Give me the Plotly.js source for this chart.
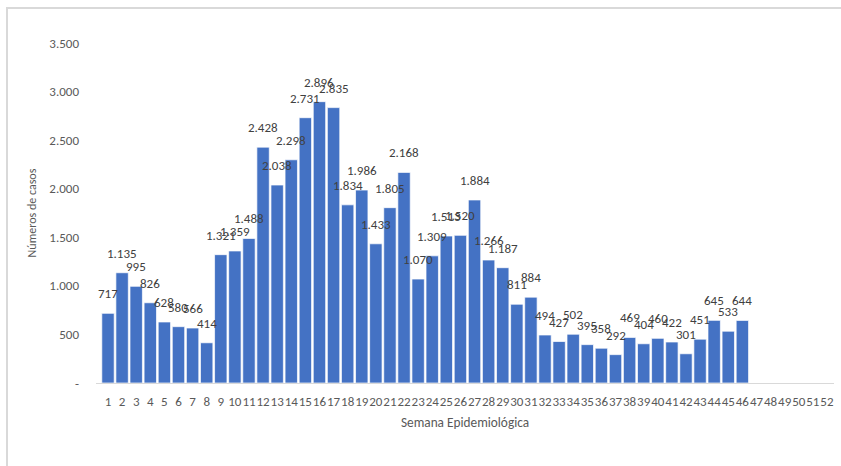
<!DOCTYPE html>
<html>
<head>
<meta charset="utf-8">
<script src="https://cdn.plot.ly/plotly-3.0.1.min.js"></script>
<style>
  html, body { margin: 0; padding: 0; background: #ffffff; width: 841px; height: 466px; overflow: hidden; }
  #frame { position: absolute; left: 6px; top: 7px; width: 900px; height: 500px;
           border-left: 2px solid #d9d9d9; border-top: 2px solid #d9d9d9; box-sizing: border-box; }
  #chart { position: absolute; left: 0; top: 0; width: 841px; height: 466px; }
</style>
</head>
<body>
<div id="frame"></div>
<div id="chart"></div>
<script>
// Epidemiological weeks (categories)
const weeks = ["1","2","3","4","5","6","7","8","9","10","11","12","13","14","15","16","17","18","19","20",
  "21","22","23","24","25","26","27","28","29","30","31","32","33","34","35","36","37","38","39","40",
  "41","42","43","44","45","46","47","48","49","50","51","52"];

// Number of cases per week (weeks 47-52 without data)
const cases = [717, 1135, 995, 826, 628, 580, 566, 414, 1321, 1359,
  1488, 2428, 2038, 2298, 2731, 2896, 2835, 1834, 1986, 1433,
  1805, 2168, 1070, 1309, 1513, 1520, 1884, 1266, 1187, 811,
  884, 494, 427, 502, 395, 358, 292, 469, 404, 460,
  422, 301, 451, 645, 533, 644, null, null, null, null, null, null];

// Y axis tick values and labels
const yTickVals = [0, 500, 1000, 1500, 2000, 2500, 3000, 3500];
const yTickText = ["-", "500", "1.000", "1.500", "2.000", "2.500", "3.000", "3.500"];

const xTitle = "Semana Epidemiológica";
const yTitle = "Números de casos";

const FONT = "Carlito, Calibri, Lato, 'Open Sans', sans-serif";

function fmt(v) {
  return String(v).replace(/\B(?=(\d{3})+(?!\d))/g, ".");
}

const trace = {
  type: "bar",
  x: weeks,
  y: cases,
  marker: { color: "#4472C4", line: { color: "#ffffff", width: 0.7 } },
  hoverinfo: "x+y"
};

// Data labels drawn above each bar (Excel "outside end" style);
// on a category axis the annotation x is the category's index.
const labels = [];
weeks.forEach(function (w, i) {
  if (cases[i] === null) return;
  labels.push({
    x: i, y: cases[i], xref: "x", yref: "y",
    text: fmt(cases[i]),
    showarrow: false,
    yanchor: "bottom",
    xanchor: "center",
    yshift: 10,
    font: { family: FONT, size: 13, color: "#404040" }
  });
});

const layout = {
  width: 841,
  height: 466,
  paper_bgcolor: "rgba(0,0,0,0)",
  plot_bgcolor: "rgba(0,0,0,0)",
  margin: { l: 96, r: 7, t: 43, b: 83, pad: 0 },
  showlegend: false,
  bargap: 0.12,
  font: { family: FONT, size: 13, color: "#595959" },
  annotations: labels,
  xaxis: {
    type: "category",
    tickmode: "linear",
    dtick: 1,
    tickangle: 0,
    ticks: "",
    showgrid: false,
    zeroline: false,
    showline: true,
    linecolor: "#d9d9d9",
    linewidth: 1,
    tickfont: { family: FONT, size: 13, color: "#595959" },
    ticklabelstandoff: 6,
    title: { text: xTitle, font: { family: FONT, size: 13.3, color: "#595959" }, standoff: 10 }
  },
  yaxis: {
    range: [0, 3500],
    tickmode: "array",
    tickvals: yTickVals,
    ticktext: yTickText,
    ticks: "",
    showgrid: false,
    zeroline: false,
    showline: false,
    tickfont: { family: FONT, size: 13, color: "#595959" },
    ticklabelstandoff: 16,
    title: { text: yTitle, font: { family: FONT, size: 12, color: "#595959" }, standoff: 10 }
  }
};

Plotly.newPlot("chart", [trace], layout, { displayModeBar: false, staticPlot: true });
</script>
</body>
</html>
